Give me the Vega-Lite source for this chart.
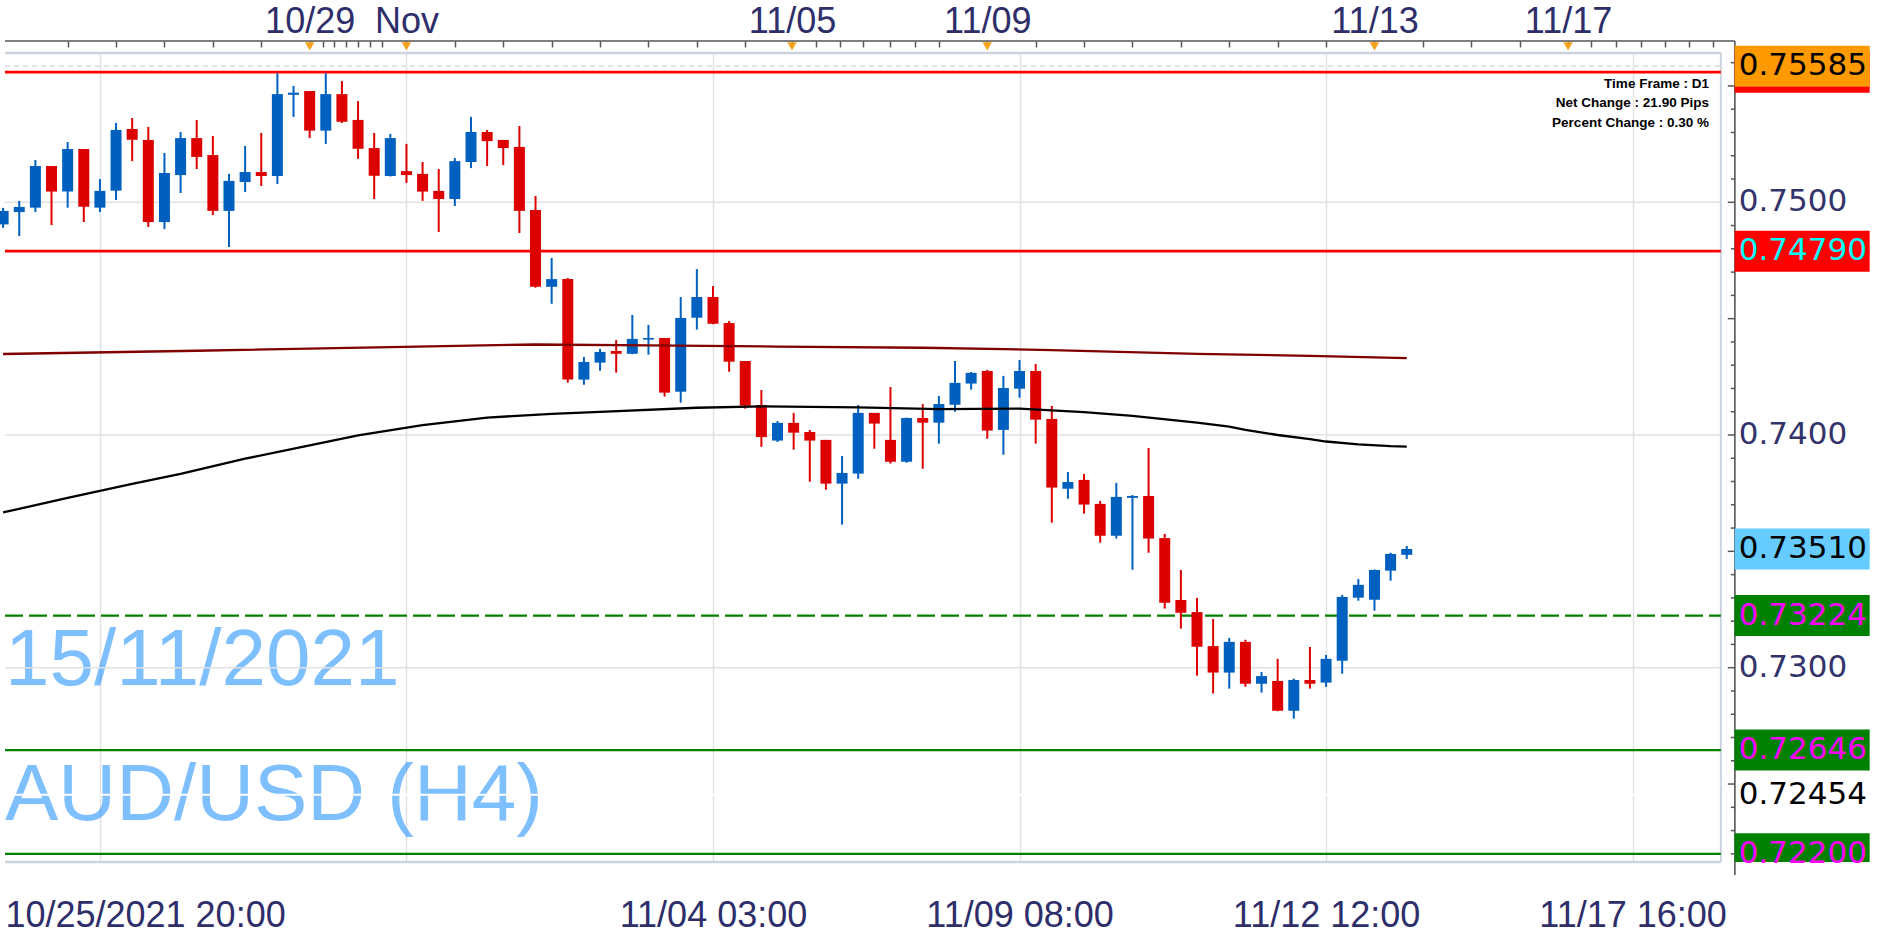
{
"$schema": "https://vega.github.io/schema/vega-lite/v6.json",
"width": 1893, "height": 809,
"autosize": {"type": "none"},
"padding": {"left": 0, "top": 53, "right": 0, "bottom": 75},
"background": "#FFFFFF",
"config": {"view": {"stroke": null}},
"resolve": {"axis": {"x": "independent"}, "scale": {"color": "independent"}},
"datasets": {
"candles": [
{"i":0,"o":0.74905,"h":0.74976,"l":0.74890,"c":0.74963},
{"i":1,"o":0.74958,"h":0.75006,"l":0.74855,"c":0.74980},
{"i":2,"o":0.74977,"h":0.75182,"l":0.74958,"c":0.75156},
{"i":3,"o":0.75156,"h":0.75156,"l":0.74902,"c":0.75046},
{"i":4,"o":0.75046,"h":0.75259,"l":0.74977,"c":0.75229},
{"i":5,"o":0.75229,"h":0.75229,"l":0.74915,"c":0.74981},
{"i":6,"o":0.74977,"h":0.75100,"l":0.74958,"c":0.75049},
{"i":7,"o":0.75050,"h":0.75341,"l":0.75010,"c":0.75311},
{"i":8,"o":0.75315,"h":0.75362,"l":0.75177,"c":0.75269},
{"i":9,"o":0.75268,"h":0.75324,"l":0.74894,"c":0.74915},
{"i":10,"o":0.74915,"h":0.75212,"l":0.74885,"c":0.75126},
{"i":11,"o":0.75117,"h":0.75302,"l":0.75040,"c":0.75276},
{"i":12,"o":0.75276,"h":0.75354,"l":0.75143,"c":0.75195},
{"i":13,"o":0.75203,"h":0.75285,"l":0.74945,"c":0.74963},
{"i":14,"o":0.74963,"h":0.75122,"l":0.74808,"c":0.75092},
{"i":15,"o":0.75087,"h":0.75242,"l":0.75044,"c":0.75130},
{"i":16,"o":0.75130,"h":0.75298,"l":0.75070,"c":0.75113},
{"i":17,"o":0.75113,"h":0.75554,"l":0.75079,"c":0.75465},
{"i":18,"o":0.75462,"h":0.75500,"l":0.75367,"c":0.75471},
{"i":19,"o":0.75478,"h":0.75478,"l":0.75276,"c":0.75308},
{"i":20,"o":0.75308,"h":0.75554,"l":0.75251,"c":0.75465},
{"i":21,"o":0.75465,"h":0.75521,"l":0.75341,"c":0.75346},
{"i":22,"o":0.75354,"h":0.75435,"l":0.75187,"c":0.75230},
{"i":23,"o":0.75233,"h":0.75298,"l":0.75014,"c":0.75114},
{"i":24,"o":0.75113,"h":0.75294,"l":0.75111,"c":0.75276},
{"i":25,"o":0.75134,"h":0.75251,"l":0.75083,"c":0.75117},
{"i":26,"o":0.75122,"h":0.75173,"l":0.75006,"c":0.75046},
{"i":27,"o":0.75049,"h":0.75143,"l":0.74872,"c":0.75014},
{"i":28,"o":0.75014,"h":0.75190,"l":0.74984,"c":0.75177},
{"i":29,"o":0.75173,"h":0.75367,"l":0.75147,"c":0.75302},
{"i":30,"o":0.75302,"h":0.75311,"l":0.75156,"c":0.75263},
{"i":31,"o":0.75268,"h":0.75268,"l":0.75160,"c":0.75233},
{"i":32,"o":0.75238,"h":0.75328,"l":0.74868,"c":0.74963},
{"i":33,"o":0.74967,"h":0.75027,"l":0.74633,"c":0.74637},
{"i":34,"o":0.74637,"h":0.74761,"l":0.74564,"c":0.74670},
{"i":35,"o":0.74670,"h":0.74675,"l":0.74225,"c":0.74238},
{"i":36,"o":0.74238,"h":0.74335,"l":0.74216,"c":0.74314},
{"i":37,"o":0.74311,"h":0.74370,"l":0.74276,"c":0.74357},
{"i":38,"o":0.74361,"h":0.74408,"l":0.74268,"c":0.74349},
{"i":39,"o":0.74349,"h":0.74516,"l":0.74347,"c":0.74413},
{"i":40,"o":0.74410,"h":0.74473,"l":0.74345,"c":0.74417},
{"i":41,"o":0.74417,"h":0.74417,"l":0.74165,"c":0.74182},
{"i":42,"o":0.74186,"h":0.74593,"l":0.74139,"c":0.74503},
{"i":43,"o":0.74504,"h":0.74713,"l":0.74453,"c":0.74593},
{"i":44,"o":0.74593,"h":0.74640,"l":0.74476,"c":0.74478},
{"i":45,"o":0.74481,"h":0.74490,"l":0.74272,"c":0.74315},
{"i":46,"o":0.74318,"h":0.74318,"l":0.74113,"c":0.74126},
{"i":47,"o":0.74129,"h":0.74193,"l":0.73949,"c":0.73991},
{"i":48,"o":0.73976,"h":0.74060,"l":0.73970,"c":0.74052},
{"i":49,"o":0.74052,"h":0.74095,"l":0.73937,"c":0.74010},
{"i":50,"o":0.74013,"h":0.74022,"l":0.73799,"c":0.73976},
{"i":51,"o":0.73979,"h":0.73979,"l":0.73765,"c":0.73791},
{"i":52,"o":0.73791,"h":0.73910,"l":0.73615,"c":0.73837},
{"i":53,"o":0.73834,"h":0.74129,"l":0.73812,"c":0.74095},
{"i":54,"o":0.74095,"h":0.74095,"l":0.73941,"c":0.74049},
{"i":55,"o":0.73979,"h":0.74206,"l":0.73877,"c":0.73885},
{"i":56,"o":0.73885,"h":0.74075,"l":0.73881,"c":0.74073},
{"i":57,"o":0.74073,"h":0.74133,"l":0.73855,"c":0.74053},
{"i":58,"o":0.74053,"h":0.74168,"l":0.73963,"c":0.74133},
{"i":59,"o":0.74130,"h":0.74318,"l":0.74100,"c":0.74224},
{"i":60,"o":0.74221,"h":0.74271,"l":0.74195,"c":0.74267},
{"i":61,"o":0.74275,"h":0.74280,"l":0.73984,"c":0.74019},
{"i":62,"o":0.74022,"h":0.74254,"l":0.73915,"c":0.74202},
{"i":63,"o":0.74199,"h":0.74322,"l":0.74160,"c":0.74275},
{"i":64,"o":0.74275,"h":0.74305,"l":0.73963,"c":0.74066},
{"i":65,"o":0.74069,"h":0.74125,"l":0.73623,"c":0.73774},
{"i":66,"o":0.73769,"h":0.73841,"l":0.73726,"c":0.73798},
{"i":67,"o":0.73807,"h":0.73833,"l":0.73662,"c":0.73701},
{"i":68,"o":0.73704,"h":0.73717,"l":0.73537,"c":0.73567},
{"i":69,"o":0.73567,"h":0.73794,"l":0.73555,"c":0.73734},
{"i":70,"o":0.73730,"h":0.73742,"l":0.73421,"c":0.73738},
{"i":71,"o":0.73738,"h":0.73944,"l":0.73494,"c":0.73555},
{"i":72,"o":0.73557,"h":0.73575,"l":0.73254,"c":0.73279},
{"i":73,"o":0.73291,"h":0.73420,"l":0.73168,"c":0.73236},
{"i":74,"o":0.73239,"h":0.73300,"l":0.72966,"c":0.73090},
{"i":75,"o":0.73093,"h":0.73209,"l":0.72889,"c":0.72979},
{"i":76,"o":0.72979,"h":0.73128,"l":0.72910,"c":0.73111},
{"i":77,"o":0.73111,"h":0.73120,"l":0.72918,"c":0.72931},
{"i":78,"o":0.72931,"h":0.72982,"l":0.72893,"c":0.72964},
{"i":79,"o":0.72943,"h":0.73038,"l":0.72813,"c":0.72815},
{"i":80,"o":0.72815,"h":0.72953,"l":0.72781,"c":0.72947},
{"i":81,"o":0.72947,"h":0.73089,"l":0.72910,"c":0.72931},
{"i":82,"o":0.72936,"h":0.73055,"l":0.72918,"c":0.73038},
{"i":83,"o":0.73030,"h":0.73313,"l":0.72974,"c":0.73304},
{"i":84,"o":0.73301,"h":0.73381,"l":0.73288,"c":0.73356},
{"i":85,"o":0.73292,"h":0.73422,"l":0.73245,"c":0.73420},
{"i":86,"o":0.73417,"h":0.73494,"l":0.73374,"c":0.73489},
{"i":87,"o":0.73485,"h":0.73523,"l":0.73467,"c":0.73510}
],
"maSlow": [
{"i":0,"v":0.74348},{"i":12,"v":0.74362},{"i":24,"v":0.74378},{"i":33,"v":0.74389},{"i":40,"v":0.74385},{"i":48,"v":0.74380},{"i":57,"v":0.74375},{"i":65,"v":0.74365},{"i":74,"v":0.74349},{"i":81,"v":0.74340},{"i":87,"v":0.74330}
],
"maFast": [
{"i":0,"v":0.73667},{"i":4,"v":0.73730},{"i":8,"v":0.73790},{"i":11,"v":0.73833},{"i":15,"v":0.73898},{"i":19,"v":0.73955},{"i":22,"v":0.73998},{"i":26,"v":0.74042},{"i":30,"v":0.74075},{"i":34,"v":0.74091},{"i":37,"v":0.74099},{"i":43,"v":0.74117},{"i":47,"v":0.74123},{"i":53,"v":0.74119},{"i":58,"v":0.74111},{"i":63,"v":0.74113},{"i":67,"v":0.74098},{"i":70,"v":0.74082},{"i":74,"v":0.74053},{"i":76,"v":0.74036},{"i":77,"v":0.74022},{"i":79,"v":0.74000},{"i":81,"v":0.73982},{"i":82,"v":0.73972},{"i":84,"v":0.73960},{"i":86,"v":0.73952},{"i":87,"v":0.73950}
],
"labels": [
{"p":0.75585,"k":"high"},{"p":0.7479,"k":"res"},{"p":0.7351,"k":"last"},{"p":0.73224,"k":"pivot"},{"p":0.72646,"k":"sup"},{"p":0.72454,"k":"low"},{"p":0.722,"k":"sup2"}
],
"minorTicks": [
{"p":0.722},{"p":0.723},{"p":0.724},{"p":0.726},{"p":0.727},{"p":0.728},{"p":0.729},{"p":0.731},{"p":0.732},{"p":0.733},{"p":0.734},{"p":0.736},{"p":0.737},{"p":0.738},{"p":0.739},{"p":0.741},{"p":0.742},{"p":0.743},{"p":0.744},{"p":0.746},{"p":0.747},{"p":0.748},{"p":0.749},{"p":0.751},{"p":0.752},{"p":0.753},{"p":0.754},{"p":0.756}
],
"majorTicks": [
{"p":0.725},{"p":0.73},{"p":0.735},{"p":0.74},{"p":0.745},{"p":0.75},{"p":0.755}
],
"axisLabels": [
{"p":0.73},{"p":0.74},{"p":0.75}
]
},
"layer": [
{"data": {"values": [{"t": "15/11/2021"}]},
 "mark": {"type": "text", "align": "left", "baseline": "alphabetic", "font": "Liberation Sans", "fontSize": 80, "color": "#0080FF", "opacity": 0.5},
 "encoding": {"text": {"field": "t"}, "x": {"datum": 0.117, "type": "quantitative", "axis": null}, "y": {"datum": 0.729256, "type": "quantitative", "axis": null}}},
{"data": {"values": [{"t": "AUD/USD (H4)"}]},
 "mark": {"type": "text", "align": "left", "baseline": "alphabetic", "font": "Liberation Sans", "fontSize": 80, "color": "#0080FF", "opacity": 0.5},
 "encoding": {"text": {"field": "t"}, "x": {"datum": 0.117, "type": "quantitative", "axis": null}, "y": {"datum": 0.723455, "type": "quantitative", "axis": null}}},
{"data": {"values": [{"p": 0.73}, {"p": 0.74}, {"p": 0.75}]},
 "mark": {"type": "rule", "color": "#E2E2E2", "strokeWidth": 1.5},
 "encoding": {"x": {"datum": 0.117, "type": "quantitative", "axis": null}, "x2": {"datum": 106.47}, "y": {"field": "p", "type": "quantitative", "axis": null}}},
{"data": {"values": [{"p": 0.75585}]},
 "mark": {"type": "rule", "color": "#D4D4D4", "strokeWidth": 1.3, "strokeDash": [5, 4]},
 "encoding": {"x": {"datum": 0.117, "type": "quantitative", "axis": null}, "x2": {"datum": 106.47}, "y": {"field": "p", "type": "quantitative", "axis": null}}},
{"data": {"values": [{"p": 0.72454}]},
 "mark": {"type": "rule", "color": "#FFFFFF", "strokeWidth": 2},
 "encoding": {"x": {"datum": 0.117, "type": "quantitative", "axis": null}, "x2": {"datum": 106.47}, "y": {"field": "p", "type": "quantitative", "axis": null}}},
{"data": {"values": [{"p": 0.756416}, {"p": 0.72165}]},
 "mark": {"type": "rule", "color": "#CBD3DE", "strokeWidth": 2.5},
 "encoding": {"x": {"datum": 0.117, "type": "quantitative", "axis": null}, "x2": {"datum": 106.47}, "y": {"field": "p", "type": "quantitative", "axis": null}}},
{"data": {"values": [{"p": 106.47}]},
 "mark": {"type": "rule", "color": "#CBD3DE", "strokeWidth": 2},
 "encoding": {"x": {"field": "p", "type": "quantitative", "axis": null}, "y": {"datum": 0.756416, "type": "quantitative", "axis": null}, "y2": {"datum": 0.72165}}},
{"data": {"values": [{"p": 0.75559}, {"p": 0.7479}]},
 "mark": {"type": "rule", "color": "#FF0000", "strokeWidth": 2.7},
 "encoding": {"x": {"datum": 0.117, "type": "quantitative", "axis": null}, "x2": {"datum": 106.47}, "y": {"field": "p", "type": "quantitative", "axis": null}}},
{"data": {"values": [{"p": 0.73224}]},
 "mark": {"type": "rule", "color": "#008000", "strokeWidth": 2.3, "strokeDash": [18, 6]},
 "encoding": {"x": {"datum": 0.117, "type": "quantitative", "axis": null}, "x2": {"datum": 106.47}, "y": {"field": "p", "type": "quantitative", "axis": null}}},
{"data": {"values": [{"p": 0.72646}, {"p": 0.722}]},
 "mark": {"type": "rule", "color": "#008000", "strokeWidth": 2.3},
 "encoding": {"x": {"datum": 0.117, "type": "quantitative", "axis": null}, "x2": {"datum": 106.47}, "y": {"field": "p", "type": "quantitative", "axis": null}}},
{"data": {"name": "candles"},
 "mark": {"type": "rule", "strokeWidth": 2, "clip": true},
 "encoding": {
  "x": {"field": "i", "type": "quantitative", "scale": {"domain": [0.117, 116.83], "nice": false, "zero": false},
        "axis": {"orient": "bottom", "values": [6, 25, 44, 63, 82, 101], "title": null, "grid": true, "gridColor": "#E2E2E2", "gridWidth": 1.5, "ticks": false, "domain": false,
                 "labelExpr": "datum.value == 6 ? '10/25/2021 20:00' : datum.value == 44 ? '11/04 03:00' : datum.value == 63 ? '11/09 08:00' : datum.value == 82 ? '11/12 12:00' : datum.value == 101 ? '11/17 16:00' : ''",
                 "labelFont": "Liberation Sans", "labelFontSize": 36, "labelColor": "#2E2E6B", "labelPadding": 36, "labelBaseline": "top", "labelOverlap": false, "labelLimit": 0,
                 "labelAlign": {"condition": {"test": "datum.value == 6", "value": "left"}, "value": "center"},
                 "labelOffset": {"condition": {"test": "datum.value == 6", "value": -95}, "value": 0}}},
  "y": {"field": "l", "type": "quantitative", "scale": {"domain": [0.72165, 0.756416], "nice": false, "zero": false}, "axis": null},
  "y2": {"field": "h"},
  "color": {"condition": {"test": "datum.c >= datum.o", "value": "#0060C0"}, "value": "#DD0000"}}},
{"data": {"name": "candles"},
 "mark": {"type": "bar", "width": 11, "clip": true},
 "encoding": {
  "x": {"field": "i", "type": "quantitative", "axis": null},
  "y": {"field": "o", "type": "quantitative", "axis": null},
  "y2": {"field": "c"},
  "color": {"condition": {"test": "datum.c >= datum.o", "value": "#0060C0"}, "value": "#DD0000"}}},
{"data": {"name": "maSlow"},
 "mark": {"type": "line", "color": "#800000", "strokeWidth": 2.3, "clip": true},
 "encoding": {"x": {"field": "i", "type": "quantitative", "axis": null}, "y": {"field": "v", "type": "quantitative", "axis": null}}},
{"data": {"name": "maFast"},
 "mark": {"type": "line", "color": "#000000", "strokeWidth": 2.3, "clip": true},
 "encoding": {"x": {"field": "i", "type": "quantitative", "axis": null}, "y": {"field": "v", "type": "quantitative", "axis": null}}},
{"data": {"values": [{"p": 0.756932}]},
 "mark": {"type": "rule", "color": "#555555", "strokeWidth": 1.6},
 "encoding": {"x": {"datum": 0.117, "type": "quantitative", "axis": null}, "x2": {"datum": 107.34}, "y": {"field": "p", "type": "quantitative", "axis": null}}},
{"data": {"values": [{"p": 107.34}]},
 "mark": {"type": "rule", "color": "#555555", "strokeWidth": 1.6},
 "encoding": {"x": {"field": "p", "type": "quantitative", "axis": null}, "y": {"datum": 0.756932, "type": "quantitative", "axis": null}, "y2": {"datum": 0.721092}}},
{"data": {"name": "minorTicks"},
 "mark": {"type": "rule", "color": "#555555", "strokeWidth": 1.5},
 "encoding": {"x": {"datum": 107.09, "type": "quantitative", "axis": null}, "x2": {"datum": 107.34}, "y": {"field": "p", "type": "quantitative", "axis": null}}},
{"data": {"name": "majorTicks"},
 "mark": {"type": "rule", "color": "#555555", "strokeWidth": 1.5},
 "encoding": {"x": {"datum": 106.9, "type": "quantitative", "axis": null}, "x2": {"datum": 107.34}, "y": {"field": "p", "type": "quantitative", "axis": null}}},
{"data": {"name": "axisLabels"},
 "mark": {"type": "text", "align": "left", "baseline": "middle", "font": "DejaVu Sans", "fontSize": 31, "color": "#33336B"},
 "encoding": {"x": {"datum": 107.58, "type": "quantitative", "axis": null}, "y": {"field": "p", "type": "quantitative", "axis": null}, "text": {"field": "p", "type": "quantitative", "format": ".4f"}}},
{"data": {"values": [{"i": 19}, {"i": 25}, {"i": 48.9}, {"i": 61}, {"i": 85}, {"i": 97}]},
 "mark": {"type": "point", "shape": "triangle-down", "filled": true, "size": 90, "color": "#F7A21B", "opacity": 1},
 "encoding": {
  "x": {"field": "i", "type": "quantitative",
        "axis": {"orient": "top", "offset": 12, "title": null, "grid": false, "domain": false,
                 "values": [4,7,10,13,16,19,19.85,20.5,21.25,22,22.75,23.5,25,28,31,34,37,40,43,46,48.9,50.4,51.85,53.3,55,56.5,58,61,64,67,70,73,76,79,82,85,88,91,94,97,98.4,100,101.5,103,104.5,106],
                 "labelExpr": "datum.value == 19 ? '10/29' : datum.value == 25 ? 'Nov' : datum.value == 48.9 ? '11/05' : datum.value == 61 ? '11/09' : datum.value == 85 ? '11/13' : datum.value == 97 ? '11/17' : ''",
                 "tickSize": -6, "tickColor": "#555555", "tickWidth": 1.5,
                 "labelFont": "Liberation Sans", "labelFontSize": 36, "labelColor": "#2E2E6B", "labelPadding": 15, "labelBaseline": "alphabetic", "labelOverlap": false, "labelLimit": 0}},
  "y": {"datum": 0.7567, "type": "quantitative", "axis": null}}},
{"data": {"values": [{"p":0.75559,"k":"res0"},{"p":0.75585,"k":"high"},{"p":0.7479,"k":"res"},{"p":0.7351,"k":"last"},{"p":0.73224,"k":"pivot"},{"p":0.72646,"k":"sup"}]},
 "mark": {"type": "tick", "orient": "horizontal", "thickness": 41, "size": 135, "opacity": 1},
 "encoding": {
  "x": {"datum": 111.51, "type": "quantitative", "axis": null},
  "y": {"field": "p", "type": "quantitative", "axis": null},
  "color": {"field": "k", "type": "nominal", "legend": null, "scale": {"domain": ["res0","high","res","last","pivot","sup"], "range": ["#FF0000","#FF9900","#FF0000","#66CCFF","#008000","#008000"]}}}},
{"data": {"values": [{"p": 0.722}]},
 "mark": {"type": "tick", "orient": "horizontal", "thickness": 41, "size": 135, "opacity": 1, "color": "#008000", "clip": true},
 "encoding": {
  "x": {"datum": 111.51, "type": "quantitative", "axis": null},
  "y": {"field": "p", "type": "quantitative", "axis": null}}},
{"data": {"name": "labels"},
 "mark": {"type": "text", "align": "left", "baseline": "middle", "font": "DejaVu Sans", "fontSize": 31},
 "encoding": {
  "x": {"datum": 107.58, "type": "quantitative", "axis": null},
  "y": {"field": "p", "type": "quantitative", "axis": null},
  "text": {"field": "p", "type": "quantitative", "format": ".5f"},
  "color": {"field": "k", "type": "nominal", "legend": null, "scale": {"domain": ["high","res","last","pivot","sup","low","sup2"], "range": ["#000000","#00FFFF","#000000","#FF00FF","#FF00FF","#000000","#FF00FF"]}}}},
{"data": {"values": [{"t": "Time Frame : D1"}]},
 "mark": {"type": "text", "align": "right", "baseline": "alphabetic", "font": "Liberation Sans", "fontWeight": "bold", "fontSize": 13.5, "color": "#000000"},
 "encoding": {"text": {"field": "t"}, "x": {"datum": 105.73, "type": "quantitative", "axis": null}, "y": {"datum": 0.754912, "type": "quantitative", "axis": null}}},
{"data": {"values": [{"t": "Net Change : 21.90 Pips"}]},
 "mark": {"type": "text", "align": "right", "baseline": "alphabetic", "font": "Liberation Sans", "fontWeight": "bold", "fontSize": 13.5, "color": "#000000"},
 "encoding": {"text": {"field": "t"}, "x": {"datum": 105.73, "type": "quantitative", "axis": null}, "y": {"datum": 0.754074, "type": "quantitative", "axis": null}}},
{"data": {"values": [{"t": "Percent Change : 0.30 %"}]},
 "mark": {"type": "text", "align": "right", "baseline": "alphabetic", "font": "Liberation Sans", "fontWeight": "bold", "fontSize": 13.5, "color": "#000000"},
 "encoding": {"text": {"field": "t"}, "x": {"datum": 105.73, "type": "quantitative", "axis": null}, "y": {"datum": 0.753236, "type": "quantitative", "axis": null}}}
]
}
